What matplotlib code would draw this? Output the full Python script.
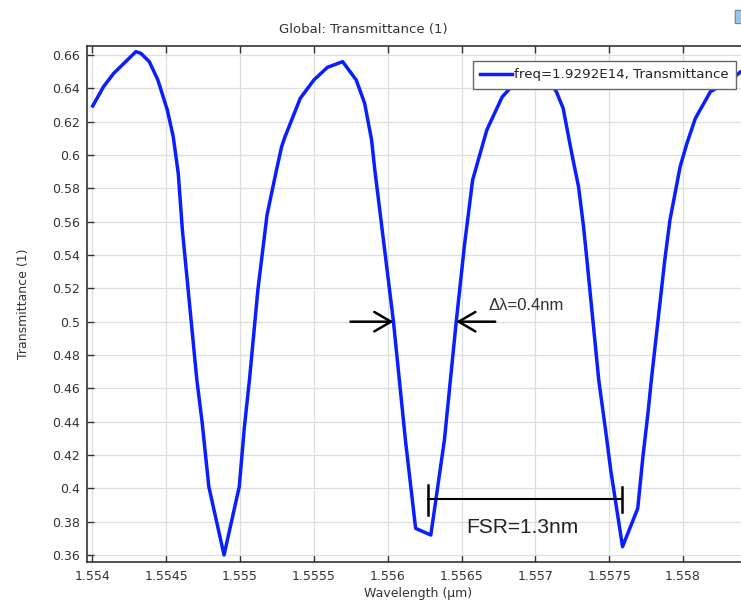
import numpy as np
import matplotlib
matplotlib.use("Agg")
import matplotlib.pyplot as plt
from matplotlib.patches import FancyBboxPatch

# transmittance trace (wavelength in um)
wavelength = [1.554003, 1.554076, 1.554145, 1.554226, 1.554295, 1.554329, 1.554386,
              1.554444, 1.554508, 1.554548, 1.554582, 1.554610, 1.554708, 1.554742,
              1.554789, 1.554892, 1.554995, 1.555030, 1.555064, 1.555121, 1.555183,
              1.555247, 1.555282, 1.555305, 1.555408, 1.555500, 1.555592, 1.555695,
              1.555787, 1.555844, 1.555891, 1.555913, 1.556039, 1.556120, 1.556189,
              1.556292, 1.556384, 1.556464, 1.556520, 1.556575, 1.556671, 1.556775,
              1.556878, 1.557002, 1.557085, 1.557142, 1.557188, 1.557246, 1.557292,
              1.557326, 1.557349, 1.557429, 1.557475, 1.557510, 1.557590, 1.557693,
              1.557728, 1.557762, 1.557785, 1.557876, 1.557911, 1.557980, 1.558026,
              1.558083, 1.558185, 1.558323, 1.558390, 1.558500]
transmittance = [0.6294, 0.6410, 0.6490, 0.6560, 0.6620, 0.6610, 0.6560,
                 0.6450, 0.6270, 0.6110, 0.5890, 0.5550, 0.4650, 0.4410,
                 0.4010, 0.3600, 0.4010, 0.4370, 0.4650, 0.5190, 0.5640,
                 0.5910, 0.6050, 0.6110, 0.6340, 0.6450, 0.6526, 0.6560,
                 0.6450, 0.6310, 0.6090, 0.5910, 0.5000, 0.4290, 0.3760,
                 0.3720, 0.4290, 0.5000, 0.5460, 0.5850, 0.6150, 0.6348,
                 0.6450, 0.6510, 0.6450, 0.6380, 0.6280, 0.6010, 0.5810,
                 0.5570, 0.5370, 0.4650, 0.4350, 0.4110, 0.3650, 0.3880,
                 0.4190, 0.4450, 0.4650, 0.5370, 0.5610, 0.5930, 0.6070,
                 0.6220, 0.6380, 0.6450, 0.6500, 0.6380]

xticks = [1.554, 1.5545, 1.555, 1.5555, 1.556, 1.5565, 1.557, 1.5575, 1.558]
xticklabels = ["1.554", "1.5545", "1.555", "1.5555", "1.556", "1.5565", "1.557", "1.5575", "1.558"]
yticks = [0.36, 0.38, 0.40, 0.42, 0.44, 0.46, 0.48, 0.50, 0.52, 0.54, 0.56, 0.58, 0.60, 0.62, 0.64, 0.66]
yticklabels = ["0.36", "0.38", "0.4", "0.42", "0.44", "0.46", "0.48", "0.5", "0.52", "0.54",
               "0.56", "0.58", "0.6", "0.62", "0.64", "0.66"]

# half-maximum crossings and neighbouring resonances
fwhm_left, fwhm_right, half_level = 1.556039, 1.556464, 0.5
fsr_left, fsr_right, fsr_level = 1.556276, 1.557589, 0.3934

W, H = 741, 601
fig = plt.figure(figsize=(W / 100, H / 100), dpi=100)
plt.rcParams['font.family'] = ['DejaVu Sans']
ax = fig.add_axes([87 / W, 1 - 561.7 / H, (750 - 87) / W, (561.7 - 46) / H])

ax.plot(wavelength, transmittance, color='#0a1fff', lw=2.5,
        label='freq=1.9292E14, Transmittance', zorder=3)

ax.set_xlim(1.5539642, 1.5584530)
ax.set_ylim(0.3560, 0.6654)
ax.set_xticks(xticks)
ax.set_xticklabels(xticklabels)
ax.set_yticks(yticks)
ax.set_yticklabels(yticklabels)
ax.tick_params(direction='in', length=5, width=1, colors='#333333', labelsize=9,
               top=True, right=False, pad=5)
ax.tick_params(axis='x', pad=6)
for s in ['left', 'bottom', 'top']:
    ax.spines[s].set_color('#333333')
    ax.spines[s].set_linewidth(1.2)
ax.spines['right'].set_visible(False)
ax.grid(True, color='#dedede', lw=0.9)
ax.set_axisbelow(True)

ax.set_xlabel('Wavelength (µm)', fontsize=9, color='#333333', labelpad=3)
ax.set_ylabel('Transmittance (1)', fontsize=9, color='#333333', labelpad=16)
fig.text(363 / W, 1 - 30 / H, 'Global: Transmittance (1)', fontsize=9.5,
         color='#333333', ha='center', va='center')

leg = ax.legend(loc='upper right', bbox_to_anchor=(736 / W, 1 - 61 / H),
                bbox_transform=fig.transFigure, borderaxespad=0, fontsize=9.6,
                fancybox=False, framealpha=1, edgecolor='#666666',
                handlelength=2.4, handletextpad=0.15, borderpad=0.55)
leg.get_frame().set_linewidth(1.0)
leg.set_zorder(20)
for t in leg.get_texts():
    t.set_color('#222222')

# arrows marking the linewidth at half level
arrow_kw = dict(arrowstyle='->,head_length=0.6,head_width=0.35', color='black',
                lw=1.8, mutation_scale=20, shrinkA=0, shrinkB=0)
ax.annotate('', xy=(fwhm_left, half_level), xytext=(1.555748, half_level),
            arrowprops=arrow_kw, zorder=5)
ax.annotate('', xy=(fwhm_right, half_level), xytext=(1.556728, half_level),
            arrowprops=arrow_kw, zorder=5)
ax.text(1.556680, 0.510, 'Δλ=0.4nm', fontsize=12, family=['Liberation Sans', 'DejaVu Sans'],
        color='#333333', ha='left', va='center')

# free spectral range bar between adjacent resonances
ax.plot([fsr_left, fsr_right], [fsr_level, fsr_level], color='black', lw=1.5, zorder=5)
ax.plot([fsr_left, fsr_left], [0.384, 0.402], color='black', lw=1.8, zorder=5)
ax.plot([fsr_right, fsr_right], [0.386, 0.401], color='black', lw=1.8, zorder=5)
ax.text((fsr_left + fsr_right) / 2 - 0.00002, 0.3766, 'FSR=1.3nm', fontsize=15,
        family=['Liberation Sans', 'DejaVu Sans'], color='#222222', ha='center', va='center')

# clipped toolbar icon in the corner
fig.patches.append(FancyBboxPatch((736 / W, 1 - 23 / H), 8 / W, 12 / H,
                                  boxstyle='round,pad=0.001', transform=fig.transFigure,
                                  fc='#9fc4e0', ec='#5a87ad', lw=0.8))

fig.savefig('out.png', dpi=100)
